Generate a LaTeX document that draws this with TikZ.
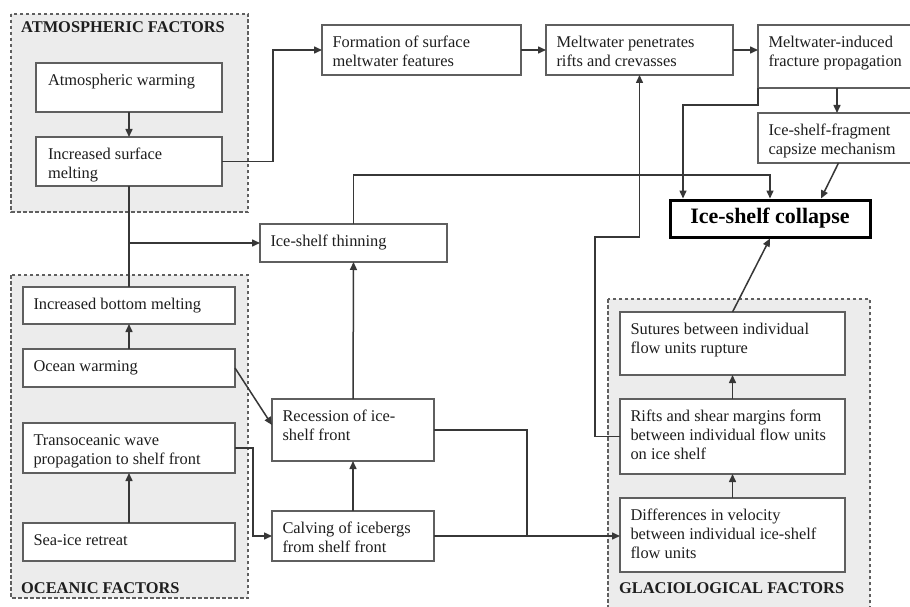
\documentclass[tikz,border=0pt]{standalone}
\usepackage{fontspec}
\setmainfont{Liberation Serif}
\usetikzlibrary{arrows.meta,calc}
\definecolor{grpfill}{RGB}{236,236,236}
\definecolor{bordercol}{RGB}{95,95,95}
\definecolor{linecol}{RGB}{55,55,55}
\definecolor{textcol}{RGB}{30,30,30}
\newcommand{\flowbox}[6]{%
  \node[fb] (#1) at (#2,#3) {\parbox[c][\dimexpr #5pt-#3pt-19pt\relax][t]{\dimexpr #4pt-#2pt-21pt\relax}{\raggedright\strut #6}};}
\tikzset{
  fb/.style={draw=bordercol, fill=white, line width=1.3pt, inner xsep=10.5pt, inner ysep=9.5pt,
    outer sep=0pt, anchor=north west, text=textcol, font=\fontsize{16.4}{19}\selectfont},
  grp/.style={draw=bordercol, fill=grpfill, line width=1.3pt, dash pattern=on 3.5pt off 2.5pt},
  grplabel/.style={anchor=base west, inner sep=0pt, text=textcol, font=\bfseries\fontsize{16.4}{19}\selectfont},
  arr/.style={draw=linecol, line width=1.5pt, -{Triangle[length=8pt,width=7pt]}},
  ln/.style={draw=linecol, line width=1.5pt},
}
\begin{document}
\begin{tikzpicture}[x=1pt,y=-1pt]
\useasboundingbox (0,0) rectangle (910,607);
\fill[white] (0,0) rectangle (910,607);
% factor groups
\draw[grp] (11,14) rectangle (248,212);
\draw[grp] (11,275) rectangle (248,598);
\draw[grp] (608,299) rectangle (870,620);
\node[grplabel] (latm) at (21,33) {ATMOSPHERIC FACTORS};
\node[grplabel] (locn) at (21,593) {OCEANIC FACTORS};
\node[grplabel] (lgla) at (619,593) {GLACIOLOGICAL FACTORS};
% boxes
\flowbox{aw}{36}{63}{222}{112}{\hspace*{1.5pt}Atmospheric warming}
\flowbox{ism}{36}{137}{222}{186}{\hspace*{1.5pt}Increased surface\\\hspace*{1.5pt}melting}
\flowbox{fsm}{322}{25}{521}{75}{Formation of surface\\meltwater features}
\flowbox{mpr}{546}{25}{733}{75}{Meltwater penetrates\\rifts and crevasses}
\flowbox{mfp}{758}{25}{916}{88}{Meltwater-induced\\fracture propagation}
\flowbox{fcm}{758}{113}{916}{163}{Ice-shelf-fragment\\capsize mechanism}
\flowbox{thin}{260}{224}{447}{262}{Ice-shelf thinning}
\flowbox{ibm}{23}{287}{235}{324}{Increased bottom melting}
\flowbox{ow}{23}{349}{235}{387}{Ocean warming}
\flowbox{two}{23}{423}{235}{473}{Transoceanic wave\\propagation to shelf front}
\flowbox{sir}{23}{523}{235}{561}{Sea-ice retreat}
\flowbox{rec}{272}{399}{434}{461}{Recession of ice-\\shelf front}
\flowbox{calv}{272}{511}{434}{561}{Calving of icebergs\\from shelf front}
\flowbox{sut}{620}{312}{845}{375}{Sutures between individual\\flow units rupture}
\flowbox{rif}{620}{399}{845}{474}{Rifts and shear margins form\\between individual flow units\\on ice shelf}
\flowbox{dif}{620}{498}{845}{572}{Differences in velocity\\between individual ice-shelf\\flow units}
\node[draw=black, fill=white, line width=3pt, minimum width=200pt, minimum height=37pt,
  anchor=north west, inner sep=0pt, outer sep=0pt, text=black,
  font=\bfseries\fontsize{22}{26}\selectfont] (col) at (670,200) {Ice-shelf collapse};
% connectors
\draw[arr] (aw.south) -- (ism.north);
\draw[arr] (ism.east) -- ++(51,0) |- (fsm.west);
\draw[arr] (fsm.east) -- (mpr.west);
\draw[arr] (mpr.east) -- (mfp.west |- mpr.east);
\draw[arr] (mfp.south) -- (fcm.north);
\draw[arr] (mfp.south west) -- ++(0,17) -| ($(col.north west)+(13,-1.5)$);
\draw[arr] ($(fcm.south)+(1.5,0)$) -- ($(col.north east)+(-49,-1.5)$);
\draw[arr] (thin.north) -- ++(0,-49) -| ($(col.north west)+(100,-1.5)$);
\draw[ln] (ism.south) -- (ibm.north);
\draw[arr] (ism.south |- thin.west) -- (thin.west);
\draw[arr] (ow.north) -- (ibm.south);
\draw[arr] (ow.east) -- ($(rec.north west)+(0,26)$);
\draw[arr] (sir.north) -- (two.south);
\draw[arr] (two.east) -- ++(18,0) |- (calv.west);
\draw[arr] (calv.north) -- (rec.south);
\draw[arr] (rec.north) -- (thin.south);
\draw[ln] (rec.east) -- ++(93,0) coordinate (rj) -- (rj |- calv.east);
\draw[arr] (calv.east) -- (dif.west |- calv.east);
\draw[arr] (dif.north) -- (rif.south);
\draw[arr] (rif.north) -- (sut.south);
\draw[arr] (sut.north) -- ($(col.south west)+(100,1.5)$);
\draw[arr] (rif.west) -- ++(-25,0) -- ++(0,-199.5) -| (mpr.south);
\end{tikzpicture}
\end{document}
